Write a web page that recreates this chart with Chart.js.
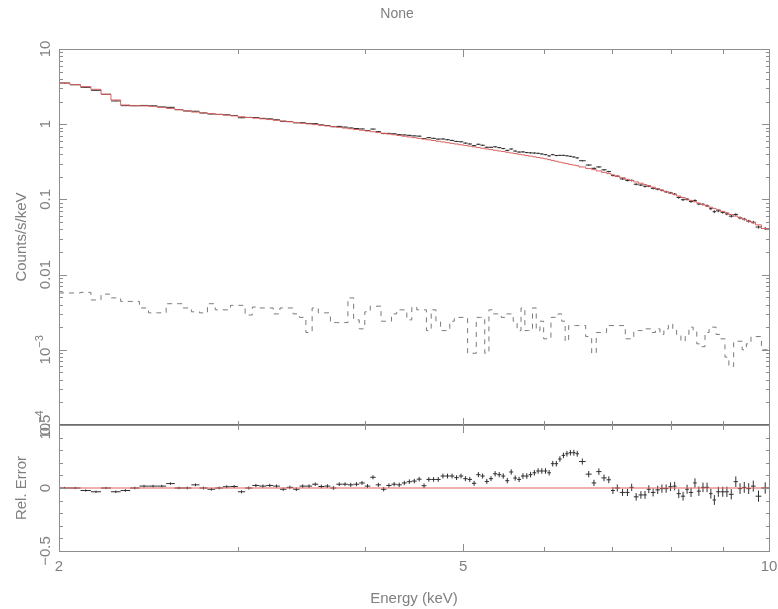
<!DOCTYPE html>
<html>
<head>
<meta charset="utf-8">
<title>None</title>
<script src="https://cdn.jsdelivr.net/npm/chart.js@4.4.1/dist/chart.umd.min.js"></script>
<style>
  html, body { margin: 0; padding: 0; background: #fff; }
  #wrap { position: relative; width: 778px; height: 609px; }
  #wrap canvas { position: absolute; left: 0; top: 0; }
</style>
</head>
<body>
<div id="wrap">
  <canvas id="resid-chart" width="778" height="609"></canvas>
  <canvas id="spec-chart" width="778" height="609"></canvas>
</div>
<script>
// Channel grouping (keV): 0.05 keV bins up to 6.5 keV, wider above
const binEdges = [
  2.00, 2.05, 2.10, 2.15, 2.20, 2.25, 2.30, 2.35, 2.40, 2.45,
  2.50, 2.55, 2.60, 2.65, 2.70, 2.75, 2.80, 2.85, 2.90, 2.95,
  3.00, 3.05, 3.10, 3.15, 3.20, 3.25, 3.30, 3.35, 3.40, 3.45,
  3.50, 3.55, 3.60, 3.65, 3.70, 3.75, 3.80, 3.85, 3.90, 3.95,
  4.00, 4.05, 4.10, 4.15, 4.20, 4.25, 4.30, 4.35, 4.40, 4.45,
  4.50, 4.55, 4.60, 4.65, 4.70, 4.75, 4.80, 4.85, 4.90, 4.95,
  5.00, 5.05, 5.10, 5.15, 5.20, 5.25, 5.30, 5.35, 5.40, 5.45,
  5.50, 5.55, 5.60, 5.65, 5.70, 5.75, 5.80, 5.85, 5.90, 5.95,
  6.00, 6.05, 6.10, 6.15, 6.20, 6.25, 6.30, 6.35, 6.40, 6.45,
  6.50, 6.60, 6.69, 6.76, 6.84, 6.92, 6.99, 7.05, 7.13, 7.22,
  7.29, 7.36, 7.44, 7.52, 7.58, 7.65, 7.73, 7.81, 7.88, 7.96,
  8.04, 8.11, 8.19, 8.27, 8.34, 8.42, 8.49, 8.57, 8.65, 8.73,
  8.80, 8.87, 8.96, 9.05, 9.13, 9.23, 9.32, 9.41, 9.50, 9.60,
  9.70, 9.83, 10.00,
];

// Folded model (counts/s/keV), one value per bin
const modelRate = [
  3.53, 3.35, 3.16, 2.91, 2.50, 2.10, 1.80, 1.76, 1.75, 1.73,
  1.67, 1.62, 1.56, 1.50, 1.45, 1.41, 1.38, 1.35, 1.32, 1.29,
  1.256, 1.230, 1.204, 1.178, 1.153, 1.128, 1.103, 1.078, 1.054, 1.030,
  1.008, 0.987, 0.967, 0.947, 0.927, 0.908, 0.888, 0.869, 0.850, 0.831,
  0.813, 0.794, 0.776, 0.758, 0.740, 0.724, 0.708, 0.692, 0.677, 0.663,
  0.648, 0.634, 0.620, 0.607, 0.593, 0.581, 0.568, 0.556, 0.545, 0.533,
  0.522, 0.511, 0.500, 0.489, 0.479, 0.469, 0.459, 0.450, 0.441, 0.433,
  0.424, 0.415, 0.407, 0.399, 0.391, 0.383, 0.376, 0.369, 0.361, 0.354,
  0.347, 0.338, 0.330, 0.321, 0.313, 0.306, 0.299, 0.292, 0.286, 0.280,
  0.270, 0.258, 0.249, 0.239, 0.229, 0.220, 0.212, 0.2035, 0.194, 0.185,
  0.178, 0.171, 0.164, 0.1576, 0.1518, 0.1454, 0.1388, 0.1327, 0.1269, 0.1209,
  0.1158, 0.1109, 0.1059, 0.1014, 0.0971, 0.0930, 0.0892, 0.0855, 0.0819, 0.0787,
  0.0759, 0.0727, 0.0693, 0.0662, 0.0630, 0.0599, 0.0571, 0.0543, 0.0516, 0.0489,
  0.0459, 0.0410,
];

// Background spectrum (counts/s/keV)
const bkgRate = [
  0.0057, 0.0057, 0.0058, 0.0046, 0.0055, 0.0049, 0.0044, 0.0044, 0.0036, 0.0031,
  0.0031, 0.0041, 0.0041, 0.0036, 0.0032, 0.0031, 0.0041, 0.0034, 0.0034, 0.0039,
  0.0039, 0.0029, 0.0037, 0.0036, 0.0036, 0.0030, 0.0036, 0.0036, 0.0030, 0.0027,
  0.0017, 0.0036, 0.0031, 0.0031, 0.0023, 0.0023, 0.0023, 0.0049, 0.0025, 0.0019,
  0.0032, 0.0038, 0.0038, 0.0024, 0.0024, 0.0030, 0.0034, 0.0034, 0.0025, 0.0037,
  0.0034, 0.0034, 0.0018, 0.0034, 0.0024, 0.0018, 0.0018, 0.0024, 0.0027, 0.0027,
  0.0027, 0.0009, 0.0009, 0.0027, 0.0027, 0.0009, 0.0034, 0.0030, 0.0030, 0.0027,
  0.0030, 0.0030, 0.0024, 0.0018, 0.0036, 0.0018, 0.0018, 0.0036, 0.0018, 0.0024,
  0.0014, 0.0014, 0.0027, 0.0027, 0.0030, 0.0024, 0.0013, 0.0021, 0.0021, 0.0021,
  0.0021, 0.0015, 0.0009, 0.0017, 0.0017, 0.0021, 0.0021, 0.0021, 0.0021, 0.0014,
  0.0014, 0.0018, 0.0018, 0.0019, 0.0019, 0.0017, 0.0019, 0.0016, 0.0019, 0.0022,
  0.0019, 0.0016, 0.0013, 0.0016, 0.0020, 0.0018, 0.0012, 0.0011, 0.0017, 0.0020,
  0.0020, 0.0016, 0.0014, 0.0008, 0.0006, 0.0013, 0.0013, 0.0010, 0.0012, 0.0015,
  0.0015, 0.0010,
];

// (data - model) / model per bin
const relResid = [
  0, 0, -0.02, -0.03, 0, -0.03, -0.02, 0, 0.015, 0.015,
  0.015, 0.035, 0, 0, 0.025, 0, -0.01, 0, 0.01, 0.012,
  -0.03, 0, 0.02, 0.015, 0.02, 0.015, -0.01, 0.005, -0.01, 0.015,
  0.015, 0.03, 0.012, 0.015, 0, 0.03, 0.03, 0.025, 0.03, 0.04,
  0.015, 0.085, 0.025, -0.01, 0.02, 0.03, 0.025, 0.04, 0.05, 0.055,
  0.07, 0.018, 0.068, 0.068, 0.068, 0.095, 0.095, 0.095, 0.082, 0.095,
  0.074, 0.068, 0.037, 0.106, 0.095, 0.052, 0.074, 0.113, 0.106, 0.095,
  0.058, 0.127, 0.079, 0.068, 0.095, 0.095, 0.106, 0.121, 0.135, 0.135,
  0.135, 0.121, 0.193, 0.193, 0.23, 0.259, 0.272, 0.28, 0.28, 0.272,
  0.21, 0.11, 0.04, 0.13, 0.08, 0.065, -0.02, 0, -0.035, -0.035,
  0.005, -0.07, -0.055, -0.055, -0.01, -0.035, -0.015, -0.005, -0.005, 0.01,
  0.015, -0.045, -0.065, -0.01, -0.035, 0.04, -0.025, 0.005, 0.005, -0.045,
  -0.095, -0.03, -0.03, -0.03, -0.05, 0.05, -0.005, 0.005, -0.005, 0.015,
  -0.065, 0,
];

// 1-sigma relative error per bin
const relErr = [
  0.009, 0.009, 0.009, 0.009, 0.009, 0.010, 0.010, 0.010, 0.010, 0.010,
  0.010, 0.010, 0.010, 0.011, 0.011, 0.011, 0.011, 0.011, 0.012, 0.012,
  0.012, 0.012, 0.013, 0.013, 0.013, 0.013, 0.013, 0.014, 0.014, 0.014,
  0.014, 0.014, 0.015, 0.015, 0.015, 0.015, 0.015, 0.016, 0.016, 0.016,
  0.016, 0.016, 0.016, 0.017, 0.017, 0.017, 0.017, 0.017, 0.018, 0.018,
  0.018, 0.018, 0.018, 0.018, 0.019, 0.019, 0.019, 0.019, 0.019, 0.019,
  0.020, 0.020, 0.020, 0.020, 0.020, 0.020, 0.020, 0.021, 0.021, 0.021,
  0.021, 0.021, 0.021, 0.021, 0.022, 0.022, 0.022, 0.022, 0.022, 0.022,
  0.022, 0.022, 0.022, 0.022, 0.022, 0.022, 0.022, 0.022, 0.023, 0.023,
  0.024, 0.025, 0.025, 0.026, 0.026, 0.027, 0.027, 0.028, 0.028, 0.029,
  0.029, 0.030, 0.030, 0.031, 0.031, 0.032, 0.032, 0.033, 0.033, 0.034,
  0.034, 0.035, 0.035, 0.036, 0.036, 0.037, 0.037, 0.038, 0.038, 0.039,
  0.039, 0.040, 0.040, 0.041, 0.041, 0.042, 0.042, 0.043, 0.043, 0.044,
  0.044, 0.045,
];

// Axis ticks and labels
const energyTicks = [2, 3, 4, 5, 6, 7, 8, 9, 10];
const energyMajor = [2, 5, 10];
const energyLabels = ['2', '5', '10'];
const rateDecades = [1e-4, 1e-3, 0.01, 0.1, 1, 10];
const rateMinorSteps = [2, 3, 4, 5, 6, 7, 8, 9];
const rateLabels = [
  { value: 10, text: '10' },
  { value: 1, text: '1' },
  { value: 0.1, text: '0.1' },
  { value: 0.01, text: '0.01' },
  { value: 1e-3, text: '10', sup: '\u22123' },
  { value: 1e-4, text: '10', sup: '\u22124' },
];
const residTicks = [-0.5, -0.4, -0.3, -0.2, -0.1, 0, 0.1, 0.2, 0.3, 0.4, 0.5];
const residMajor = [-0.5, 0, 0.5];
const residLabels = ['\u22120.5', '0', '0.5'];

const FONT = '"Liberation Sans", Arial, sans-serif';
const AXIS_COLOR = '#8e8e8e';
const SEP_COLOR = '#6e6e6e';
const TEXT_COLOR = '#808080';
const DATA_COLOR = '#2e2e2e';
const MODEL_COLOR = '#dc6161';
const BKG_COLOR = '#7a7a7a';

// ============ Dataset builders ============
function stepPoints(values) {
  const pts = values.map((v, i) => ({ x: binEdges[i], y: v }));
  pts.push({ x: binEdges[values.length], y: values[values.length - 1] });
  return pts;
}

function crossPoints(centre, err) {
  const horiz = [];
  const vert = [];
  centre.forEach((c, i) => {
    const lo = binEdges[i];
    const hi = binEdges[i + 1];
    const mid = (lo + hi) / 2;
    horiz.push({ x: lo, y: c }, { x: hi, y: c }, { x: hi, y: null });
    vert.push({ x: mid, y: c - err[i] }, { x: mid, y: c + err[i] }, { x: mid, y: null });
  });
  return [horiz, vert];
}

function lineSet(data, color, extra = {}) {
  return Object.assign(
    { data, borderColor: color, borderWidth: 1, pointRadius: 0, tension: 0, spanGaps: false },
    extra
  );
}

// ============ Drawing helpers ============
function vText(ctx, x, y, text, size, sup) {
  ctx.save();
  ctx.translate(x, y);
  ctx.rotate(-Math.PI / 2);
  ctx.font = `${size}px ${FONT}`;
  const wBase = ctx.measureText(text).width;
  let wSup = 0;
  if (sup) {
    ctx.font = `${size - 4}px ${FONT}`;
    wSup = ctx.measureText(sup).width;
  }
  const start = -(wBase + wSup) / 2;
  ctx.textAlign = 'left';
  ctx.textBaseline = 'alphabetic';
  ctx.font = `${size}px ${FONT}`;
  ctx.fillText(text, start, 0);
  if (sup) {
    ctx.font = `${size - 4}px ${FONT}`;
    ctx.fillText(sup, start + wBase, -size * 0.45);
  }
  ctx.restore();
}

function hText(ctx, x, y, text, size) {
  ctx.save();
  ctx.font = `${size}px ${FONT}`;
  ctx.textAlign = 'center';
  ctx.textBaseline = 'alphabetic';
  ctx.fillText(text, x, y);
  ctx.restore();
}

function frame(ctx, a) {
  const w = Math.round(a.right - a.left) + 1;
  const h = Math.round(a.bottom - a.top) + 1;
  ctx.fillRect(Math.round(a.left), Math.round(a.top), w, 1);
  ctx.fillRect(Math.round(a.left), Math.round(a.bottom), w, 1);
  ctx.fillRect(Math.round(a.left), Math.round(a.top), 1, h);
  ctx.fillRect(Math.round(a.right), Math.round(a.top), 1, h);
}

function energyTickMarks(ctx, chart) {
  const a = chart.chartArea;
  const sx = chart.scales.x;
  energyTicks.forEach((v) => {
    const len = energyMajor.includes(v) ? 8 : 5;
    const px = Math.round(sx.getPixelForValue(v));
    ctx.fillRect(px, Math.round(a.top), 1, len);
    ctx.fillRect(px, Math.round(a.bottom) - len + 1, 1, len);
  });
}

function yTickMark(ctx, a, py, len) {
  const y = Math.round(py);
  ctx.fillRect(Math.round(a.left), y, len, 1);
  ctx.fillRect(Math.round(a.right) - len + 1, y, len, 1);
}

// ============ Axes plugins ============
const spectrumAxes = {
  id: 'spectrumAxes',
  afterDraw(chart) {
    const { ctx, chartArea: a } = chart;
    const sy = chart.scales.y;
    ctx.save();
    ctx.fillStyle = AXIS_COLOR;
    frame(ctx, a);
    energyTickMarks(ctx, chart);
    rateDecades.forEach((d) => {
      yTickMark(ctx, a, sy.getPixelForValue(d), 8);
      if (d >= 10) return;
      rateMinorSteps.forEach((k) => yTickMark(ctx, a, sy.getPixelForValue(k * d), 4));
    });

    ctx.fillStyle = TEXT_COLOR;
    rateLabels.forEach((l) => vText(ctx, 50, sy.getPixelForValue(l.value), l.text, 15, l.sup));
    vText(ctx, 25.5, (a.top + a.bottom) / 2, 'Counts/s/keV', 15);
    hText(ctx, 397, 18, 'None', 14);
    ctx.restore();
  },
};

const residualAxes = {
  id: 'residualAxes',
  afterDraw(chart) {
    const { ctx, chartArea: a } = chart;
    const sx = chart.scales.x;
    const sy = chart.scales.y;
    ctx.save();
    ctx.fillStyle = AXIS_COLOR;
    frame(ctx, a);
    energyTickMarks(ctx, chart);
    residTicks.forEach((v) => {
      yTickMark(ctx, a, sy.getPixelForValue(v), residMajor.includes(v) ? 8 : 4);
    });
    // panel separator
    ctx.fillStyle = SEP_COLOR;
    ctx.fillRect(Math.round(a.left), Math.round(a.top) - 1, Math.round(a.right - a.left) + 1, 2);

    ctx.fillStyle = TEXT_COLOR;
    residMajor.forEach((v, i) => vText(ctx, 50, sy.getPixelForValue(v), residLabels[i], 15));
    vText(ctx, 25.5, (a.top + a.bottom) / 2, 'Rel. Error', 15);
    energyMajor.forEach((v, i) => hText(ctx, sx.getPixelForValue(v), 571, energyLabels[i], 15));
    hText(ctx, (a.left + a.right) / 2, 603, 'Energy (keV)', 15);
    ctx.restore();
  },
};

// ============ Charts ============
const baseOptions = (padding, yScale) => ({
  responsive: false,
  animation: false,
  events: [],
  devicePixelRatio: 1,
  layout: { padding },
  plugins: { legend: { display: false }, tooltip: { enabled: false }, title: { display: false } },
  scales: {
    x: { type: 'logarithmic', min: 2, max: 10, display: false },
    y: Object.assign({ display: false }, yScale),
  },
});

const countRate = modelRate.map((m, i) => m * (1 + relResid[i]));
const countErr = modelRate.map((m, i) => m * relErr[i]);
const [specH, specV] = crossPoints(countRate, countErr);
const [resH, resV] = crossPoints(relResid, relErr);

new Chart(document.getElementById('spec-chart'), {
  type: 'line',
  data: {
    datasets: [
      lineSet(stepPoints(modelRate), MODEL_COLOR, { stepped: 'before' }),
      lineSet(specH, DATA_COLOR),
      lineSet(specV, DATA_COLOR),
      lineSet(stepPoints(bkgRate), BKG_COLOR, { stepped: 'before', borderDash: [5, 5] }),
    ],
  },
  options: baseOptions({ left: 59, right: 9, top: 49, bottom: 184 }, { type: 'logarithmic', min: 1e-4, max: 10 }),
  plugins: [spectrumAxes],
});

new Chart(document.getElementById('resid-chart'), {
  type: 'line',
  data: {
    datasets: [
      lineSet([{ x: 2, y: 0 }, { x: 10, y: 0 }], MODEL_COLOR),
      lineSet(resH, DATA_COLOR),
      lineSet(resV, DATA_COLOR),
    ],
  },
  options: baseOptions({ left: 59, right: 9, top: 425, bottom: 58 }, { type: 'linear', min: -0.5, max: 0.5 }),
  plugins: [residualAxes],
});
</script>
</body>
</html>
